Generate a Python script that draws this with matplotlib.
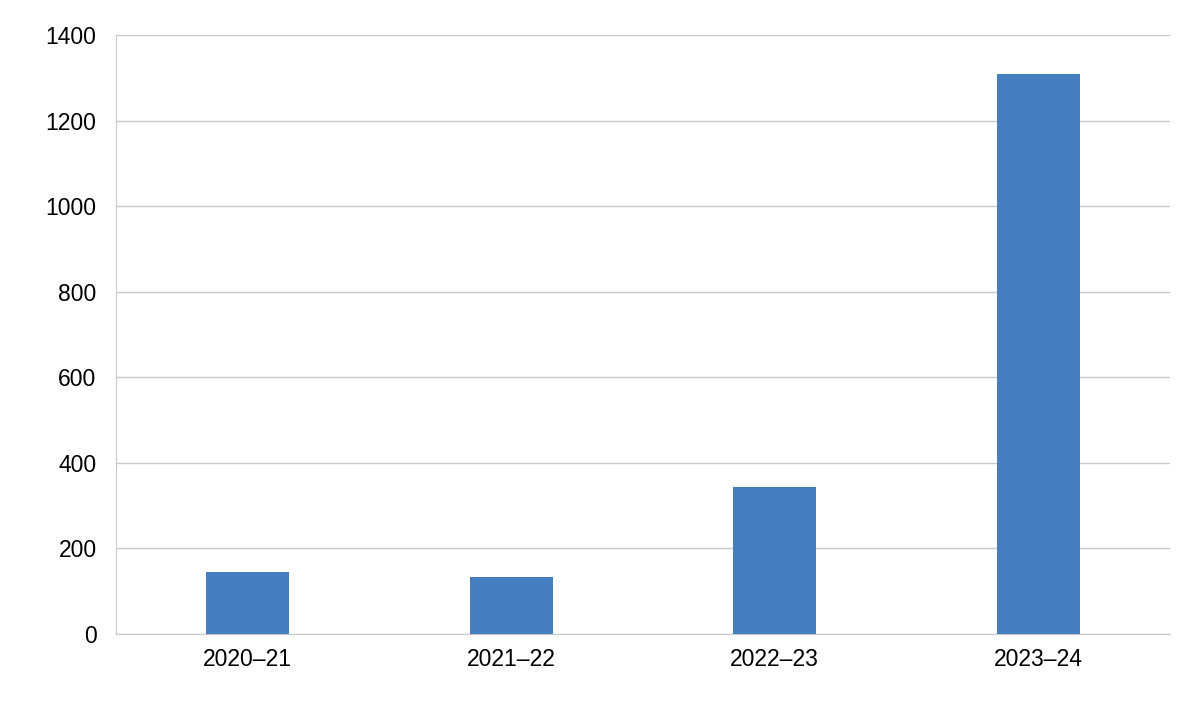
import matplotlib.pyplot as plt

categories = ['2020–21', '2021–22', '2022–23', '2023–24']
values = [145, 133, 343, 1308]

plt.rcParams['font.family'] = ['Liberation Sans', 'DejaVu Sans']

fig = plt.figure(figsize=(12, 7.02), dpi=100)
ax = fig.add_axes([116/1200, 1 - 634/702, (1170-116)/1200, (634-35)/702])

ax.bar(range(len(categories)), values, width=0.315, color='#447dc0', zorder=3)
ax.set_xlim(-0.5, len(categories) - 0.5)
ax.set_ylim(0, 1400)
ax.set_yticks(range(0, 1401, 200))
ax.set_xticks(range(len(categories)))
ax.set_xticklabels(categories)
ax.grid(axis='y', color='#c8c8c8', linewidth=1, zorder=0)
for s in ['top', 'right']:
    ax.spines[s].set_visible(False)
ax.spines['left'].set_color('#c8c8c8')
ax.spines['bottom'].set_color('#c8c8c8')
ax.tick_params(axis='both', length=0, labelsize=16.5, pad=10)
ax.tick_params(axis='y', pad=14)

fig.savefig('out.png', dpi=100)
